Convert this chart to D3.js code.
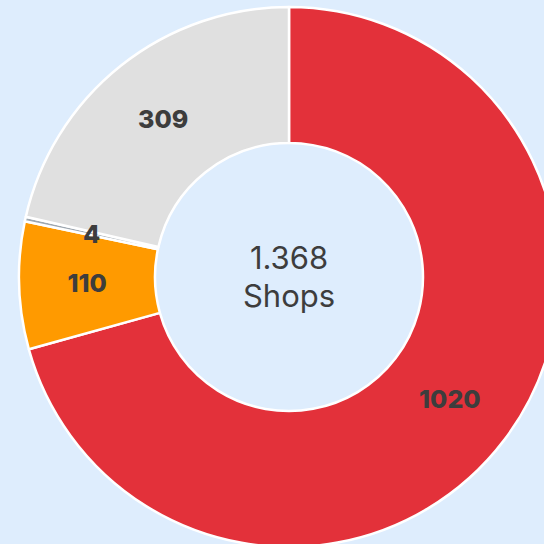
<!DOCTYPE html>
<html>
<head>
<meta charset="utf-8">
<script src="https://cdn.jsdelivr.net/npm/d3@7"></script>
<style>
  html, body { margin: 0; padding: 0; background: #deedfd; }
  #idChart { width: 544px; height: 544px; }
</style>
</head>
<body>
<div id="idChart"></div>
<script>
// Data
// -------------------
let categories = ["A", "B", "C", "D"];
let values = [1020, 110, 4, 309];
let slice_colors = ["#e3313a", "#ff9a00", "#9ea7b0", "#e0e0e0"];
let center_lines = ["1.368", "Shops"];
// -------------------

let width = 544;
let height = 544;
let cx = 289; // px
let cy = 277; // px
let r_outer = 270;
let r_inner = 134;

let svg_obj = d3.select("#idChart")
  .append("svg")
    .attr("width", width)
    .attr("height", height)
    .attr("viewBox", [0, 0, width, height].join(" "));

svg_obj.append("rect")
  .attr("width", width)
  .attr("height", height)
  .attr("fill", "#deedfd");

let g_obj = svg_obj.append("g")
  .attr("transform", "translate(" + cx + "," + cy + ")");

let pie_gen = d3.pie().sort(null).value(d => d);
let arcs = pie_gen(values);

let arc_path = d3.arc().innerRadius(r_inner).outerRadius(r_outer);
let label_arc = d3.arc().innerRadius((r_inner + r_outer) / 2).outerRadius((r_inner + r_outer) / 2);

// Slices
// -------------------
g_obj.selectAll("path.slice")
  .data(arcs)
  .join("path")
    .attr("class", "slice")
    .attr("d", arc_path)
    .attr("fill", (d, i) => slice_colors[i])
    .attr("stroke", "#ffffff")
    .attr("stroke-width", 2.5)
    .attr("stroke-linejoin", "round");

// Slice labels
// -------------------
g_obj.selectAll("text.lbl")
  .data(arcs)
  .join("text")
    .attr("class", "lbl")
    .attr("transform", d => "translate(" + label_arc.centroid(d) + ")")
    .attr("text-anchor", "middle")
    .attr("dy", "0.36em")
    .attr("font-family", "Inter, 'Open Sans', sans-serif")
    .attr("font-weight", 800)
    .attr("font-size", 25)
    .attr("fill", "#3d3d3d")
    .text(d => d.data);

// Center text
// -------------------
g_obj.selectAll("text.center")
  .data(center_lines)
  .join("text")
    .attr("class", "center")
    .attr("text-anchor", "middle")
    .attr("y", (d, i) => -8 + i * 38)
    .attr("font-family", "Inter, 'Open Sans', sans-serif")
    .attr("font-weight", 400)
    .attr("font-size", 31)
    .attr("fill", "#3d3d3d")
    .text(d => d);
</script>
</body>
</html>
